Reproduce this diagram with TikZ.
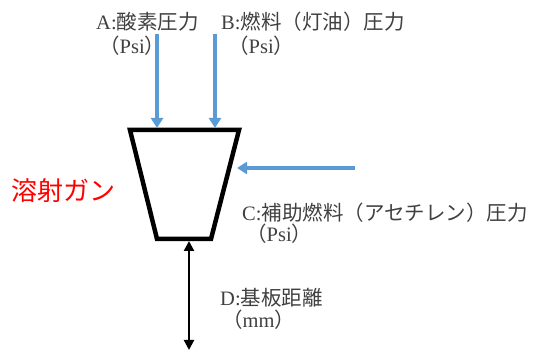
\documentclass[tikz,border=0pt]{standalone}
\usepackage{fontspec}
\setmainfont{Liberation Serif}
\newfontfamily\cjk{Noto Sans CJK JP}
\usetikzlibrary{arrows.meta}
\definecolor{txtgray}{HTML}{404040}
\definecolor{arrblue}{HTML}{5B9BD5}
\tikzset{
  lbl/.style={anchor=west, inner sep=0pt, text=txtgray, font=\fontsize{20.5}{22}\selectfont},
  bluearr/.style={draw=arrblue, line width=3.5pt, -{Triangle[width=12pt,length=10pt]}},
  blackarr/.style={draw=black, line width=2.2pt, {Triangle[width=10pt,length=10pt]}-{Triangle[width=10pt,length=10pt]}},
  gunbox/.style={draw=black, line width=4.5pt, line join=miter}
}
\begin{document}
\begin{tikzpicture}[x=1pt,y=-1pt]
\useasboundingbox (0,0) rectangle (539,352);
\coordinate (tl) at (130,130);
\coordinate (tr) at (239,130);
\coordinate (br) at (211,239);
\coordinate (bl) at (157,239);
\draw[gunbox] (tl)--(tr)--(br)--(bl)--cycle;
% arrow endpoints
\coordinate (a0) at (157,34);
\coordinate (a1) at (157,128);
\coordinate (b0) at (215,34);
\coordinate (b1) at (215,128);
\coordinate (c0) at (355,168);
\coordinate (c1) at (237,168);
\coordinate (d0) at (189,241);
\coordinate (d1) at (189,350);
\draw[bluearr] (a0) -- (a1);
\draw[bluearr] (b0) -- (b1);
\draw[bluearr] (c0) -- (c1);
\draw[blackarr] (d0) -- (d1);
% labels
\node[lbl] (la) at (96,22) {A:{\cjk 酸素圧力}};
\node[lbl] (lap) at (99,46) {{\cjk （}Psi{\cjk ）}};
\node[lbl] (lb) at (221,22) {B:{\cjk 燃料（灯油）圧力}};
\node[lbl] (lbp) at (228,46) {{\cjk （}Psi{\cjk ）}};
\node[lbl] (lc) at (242,213) {C:{\cjk 補助燃料（アセチレン）圧力}};
\node[lbl] (lcp) at (246,234) {{\cjk （}Psi{\cjk ）}};
\node[lbl] (ld) at (220,298) {D:{\cjk 基板距離}};
\node[lbl] (ldp) at (222,320) {{\cjk （}mm{\cjk ）}};
\node[anchor=west, inner sep=0pt, text=red, font=\cjk\fontsize{26}{28}\selectfont] (gun) at (11,191) {溶射ガン};
\end{tikzpicture}
\end{document}
